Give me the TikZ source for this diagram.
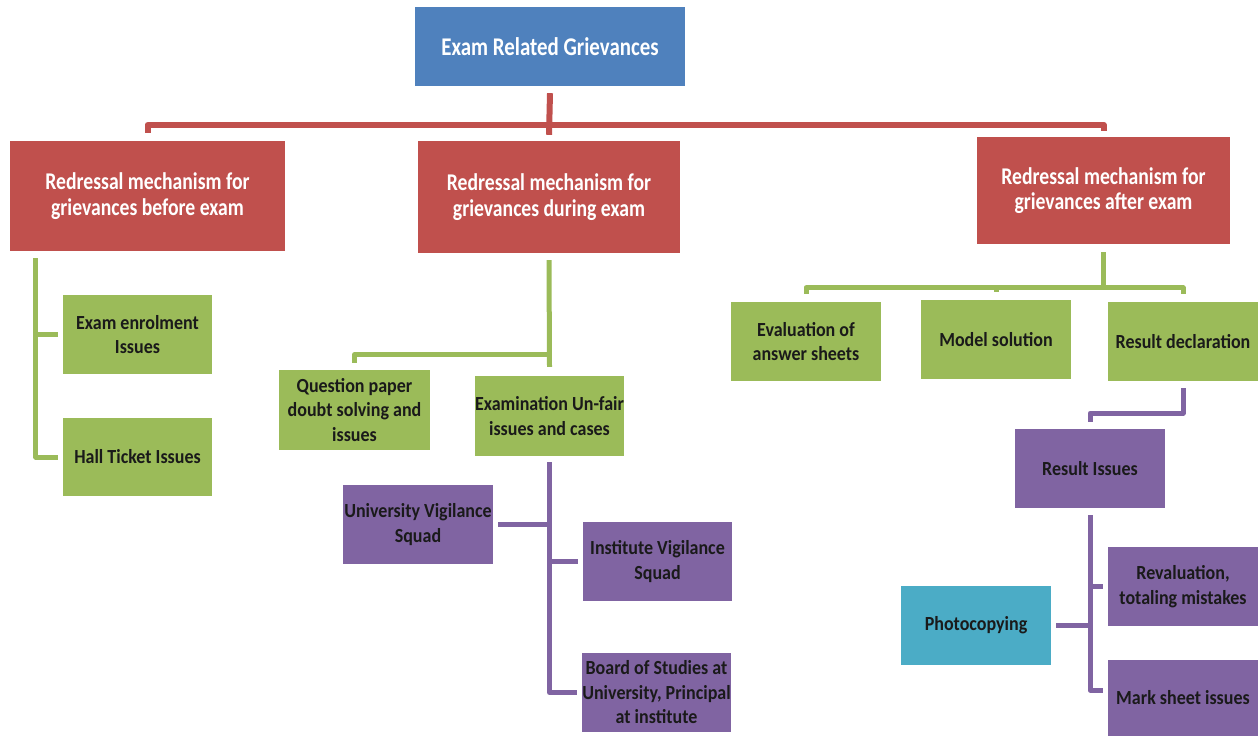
\documentclass[tikz,border=0pt]{standalone}
\usepackage{fontspec}
\setmainfont{Carlito}
\newfontfamily\bigfont{Carlito}[FakeStretch=0.82]
\newfontfamily\smallfont{Carlito}[FakeStretch=0.9]
\definecolor{cblue}{HTML}{4F81BD}
\definecolor{cred}{HTML}{C0504D}
\definecolor{cgreen}{HTML}{9BBB59}
\definecolor{cpurple}{HTML}{8064A2}
\definecolor{ccyan}{HTML}{4BACC6}
\definecolor{ctext}{HTML}{1A1A1A}
\begin{document}
\begin{tikzpicture}[x=1pt,y=-1pt,
  box/.style={rectangle, inner sep=0pt, align=center},
  bigbox/.style={box, text=white, font=\bigfont\bfseries\fontsize{24}{25.5}\selectfont},
  rootbox/.style={box, text=white, font=\bigfont\bfseries\fontsize{25.5}{26}\selectfont, fill=cblue, minimum width=270pt, minimum height=79pt},
  redbox/.style={bigbox, fill=cred},
  smallbox/.style={box, text=ctext, font=\smallfont\bfseries\fontsize{20}{24.5}\selectfont, minimum width=150pt, minimum height=79pt},
  greenbox/.style={smallbox, fill=cgreen},
  purplebox/.style={smallbox, fill=cpurple},
  cyanbox/.style={smallbox, fill=ccyan},
  redline/.style={draw=cred, line width=6pt, line join=round},
  greenline/.style={draw=cgreen, line width=5pt, line join=round},
  purpleline/.style={draw=cpurple, line width=5pt, line join=round}]
\useasboundingbox (0,0) rectangle (1260,736);

% top level
\node[rootbox] (root) at (550,46.5) {Exam Related Grievances};
\node[redbox, minimum width=275pt, minimum height=110pt] (r1) at (147.5,196) {Redressal mechanism for\\grievances before exam};
\node[redbox, minimum width=262pt, minimum height=112pt] (r2) at (549,197) {Redressal mechanism for\\grievances during exam};
\node[redbox, minimum width=253pt, minimum height=107pt] (r3) at (1103.5,190.5) {Redressal mechanism for\\grievances after exam};

% before exam
\node[greenbox, minimum width=149pt] (g1) at (137.5,334.5) {Exam enrolment\\Issues};
\node[greenbox, minimum width=149pt, minimum height=78pt] (g2) at (137.5,457) {Hall Ticket Issues};

% during exam
\node[greenbox, minimum width=151pt, minimum height=80pt] (g3) at (354.5,410) {Question paper\\doubt solving and\\issues};
\node[greenbox, minimum width=149pt, minimum height=80pt] (g4) at (549.5,416) {Examination Un-fair\\issues and cases};
\node[purplebox, minimum width=150pt] (uvs) at (418,524.5) {University Vigilance\\Squad};
\node[purplebox, minimum width=149pt] (ivs) at (657.5,561.5) {Institute Vigilance\\Squad};
\node[purplebox, minimum width=149pt] (bos) at (656.5,692.5) {Board of Studies at\\University, Principal\\at institute};

% after exam
\node[greenbox] (g5) at (806,341.5) {Evaluation of\\answer sheets};
\node[greenbox] (g6) at (996,339.5) {Model solution};
\node[greenbox] (g7) at (1183,341.5) {Result declaration};
\node[purplebox] (ri) at (1090,468.5) {Result Issues};
\node[purplebox] (rev) at (1183,586.5) {Revaluation,\\totaling mistakes};
\node[purplebox, minimum height=76pt] (ms) at (1183,698) {Mark sheet issues};
\node[cyanbox] (ph) at (976,625.5) {Photocopying};

% red connectors
\draw[redline] ([yshift=-7pt]root.south) -- ([yshift=6pt]r2.north);
\draw[redline] ([yshift=8pt]r1.north) -- ++(0,-8) -| ([yshift=6pt]r3.north);

% green connectors: before
\coordinate (bt) at ([shift={(26pt,-7pt)}]r1.south west);
\draw[greenline] (bt) |- ([xshift=-5pt]g2.west);
\draw[greenline] (bt |- g1.west) -- ([xshift=-5pt]g1.west);

% green connectors: during
\draw[greenline] ([yshift=-7pt]r2.south) -- ([yshift=9pt]g4.north);
\draw[greenline] ([yshift=7pt]g3.north) -- ++(0,-8) -| ([yshift=9pt]g4.north);

% purple connectors: during
\coordinate (dt) at ([yshift=-6pt]g4.south);
\draw[purpleline] (dt) |- ([xshift=-5pt]bos.west);
\draw[purpleline] (dt |- ivs.west) -- ([xshift=-5pt]ivs.west);
\draw[purpleline] (dt |- uvs.east) -- ([xshift=5pt]uvs.east);

% green connectors: after
\draw[greenline] ([yshift=-8pt]r3.south) -- ++(0,36) coordinate (abar);
\draw[greenline] ([yshift=8pt]g5.north) -- ++(0,-6) -| ([yshift=8pt]g7.north);
\draw[greenline] ([yshift=8pt]g6.north) -- (g6.north |- abar);

% purple connectors: after
\draw[purpleline] ([yshift=-7pt]g7.south) -- ++(0,25) -| ([yshift=7pt]ri.north);
\coordinate (at) at ([yshift=-7pt]ri.south);
\draw[purpleline] (at) |- ([shift={(-5pt,8pt)}]ms.west);
\draw[purpleline] (at |- rev.west) -- ([xshift=-5pt]rev.west);
\draw[purpleline] (at |- ph.east) -- ([xshift=5pt]ph.east);
\end{tikzpicture}
\end{document}
